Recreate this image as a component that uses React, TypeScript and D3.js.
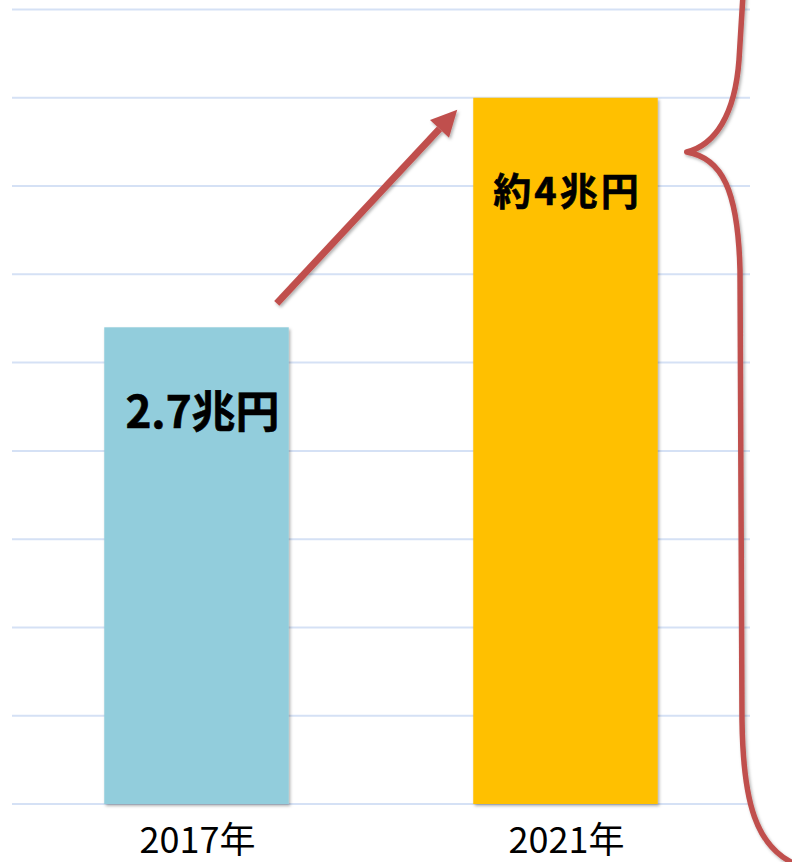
import React from "react";
import * as d3 from "d3";

const categories: string[] = ["2017年", "2021年"];
const values: number[] = [2.7, 4.0];
const valueLabels: string[] = ["2.7兆円", "約4兆円"];
const barColors: string[] = ["#92CDDC", "#FFC000"];
const gridTicks: number[] = [0, 0.5, 1, 1.5, 2, 2.5, 3, 3.5, 4, 4.5];

const W = 792;
const H = 862;

export default function App() {
  const x = d3.scaleBand<string>().domain(categories).range([12, 750]).paddingInner(0.5).paddingOuter(0.25);
  const y = d3.scaleLinear().domain([0, 4.5]).range([804, 9.5]);
  const bw = x.bandwidth();
  const red = "#C0504D";

  const ax0 = (x(categories[0]) as number) + bw - 12;
  const ay0 = y(values[0]) - 24;
  const ax1 = (x(categories[1]) as number) - 16;
  const ay1 = y(values[1]) + 12;
  const ang = Math.atan2(ay1 - ay0, ax1 - ax0);
  const headLen = 26;
  const headW = 13;
  const bx = ax1 - headLen * Math.cos(ang);
  const by = ay1 - headLen * Math.sin(ang);
  const px = -Math.sin(ang);
  const py = Math.cos(ang);
  const head = `M${ax1},${ay1} L${bx + px * headW},${by + py * headW} L${bx - px * headW},${by - py * headW} Z`;

  const tipX = (x(categories[1]) as number) + bw + 29;
  const tipY = 152;
  const brace = d3.path();
  brace.moveTo(743, -5);
  brace.lineTo(739, 60);
  brace.bezierCurveTo(735, 115, 715, 145, tipX, tipY);
  brace.bezierCurveTo(722, 158, 738, 190, 740, 270);
  brace.lineTo(742, 720);
  brace.bezierCurveTo(743, 800, 755, 850, 800, 866);

  return (
    <svg width={W} height={H} style={{ position: "absolute", left: 0, top: 0, background: "#fff" }}>
      <defs>
        <filter id="sh" x="-20%" y="-20%" width="140%" height="140%">
          <feDropShadow dx="1.5" dy="2" stdDeviation="1.5" floodColor="#000" floodOpacity="0.3" />
        </filter>
      </defs>
      {gridTicks.map((t) => (
        <line key={t} x1={12} x2={750} y1={y(t)} y2={y(t)} stroke="#D5E1F5" strokeWidth={2} />
      ))}
      {categories.map((c, i) => (
        <rect
          key={c}
          x={x(c)}
          y={y(values[i])}
          width={bw}
          height={y(0) - y(values[i])}
          fill={barColors[i]}
          filter="url(#sh)"
        />
      ))}
      {categories.map((c, i) => (
        <text
          key={"t" + c}
          x={(x(c) as number) + bw / 2 + 1}
          y={853}
          textAnchor="middle"
          fontFamily="'Noto Sans CJK JP', 'Noto Sans'"
          fontSize={36}
          fill="#000"
        >
          {c}
        </text>
      ))}
      <text
        x={(x(categories[0]) as number) + bw / 2 + 6}
        y={y(values[0]) + 101}
        textAnchor="middle"
        fontFamily="'Noto Sans CJK JP', 'Noto Sans'"
        fontWeight={700}
        fontSize={44}
        fill="#000"
        stroke="#000"
        strokeWidth={0.6}
      >
        {valueLabels[0]}
      </text>
      <text
        x={(x(categories[1]) as number) + bw / 2 + 2}
        y={y(values[1]) + 107}
        textAnchor="middle"
        fontFamily="'Noto Sans CJK JP', 'Noto Sans'"
        fontWeight={700}
        fontSize={38}
        letterSpacing={3}
        fill="#000"
        stroke="#000"
        strokeWidth={0.6}
      >
        {valueLabels[1]}
      </text>
      <g filter="url(#sh)">
        <line x1={ax0} y1={ay0} x2={bx} y2={by} stroke={red} strokeWidth={7} />
        <path d={head} fill={red} />
        <path d={brace.toString()} fill="none" stroke={red} strokeWidth={5.5} strokeLinecap="round" strokeLinejoin="round" />
      </g>
    </svg>
  );
}
